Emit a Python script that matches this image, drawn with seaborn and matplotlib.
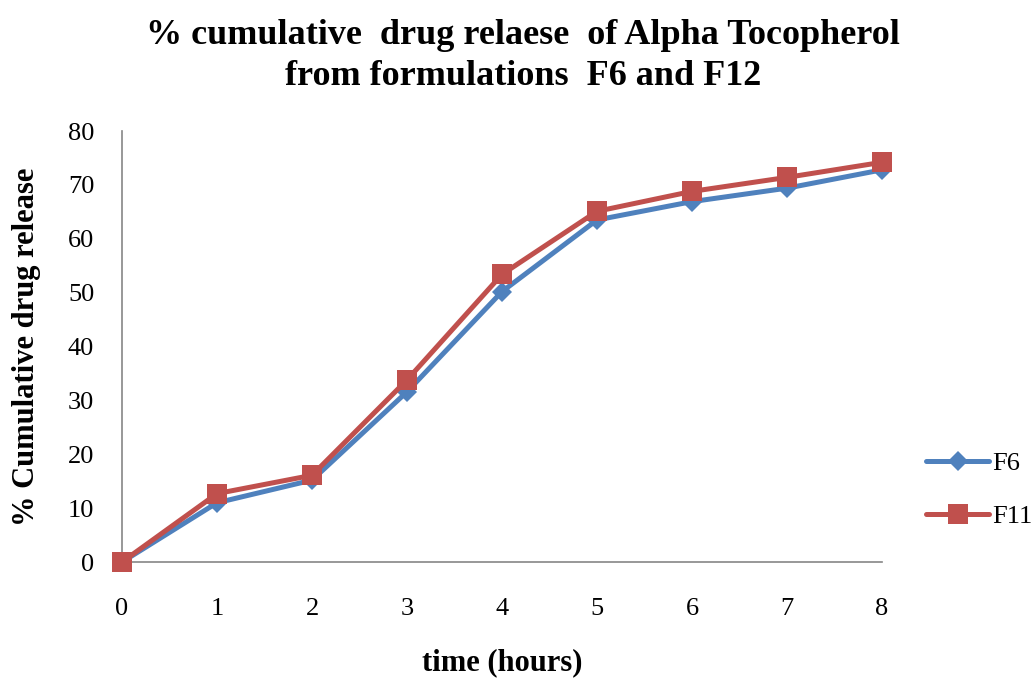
import numpy as np
import pandas as pd
import matplotlib
matplotlib.use("Agg")
import matplotlib.pyplot as plt
import seaborn as sns

time_hours = [0, 1, 2, 3, 4, 5, 6, 7, 8]
f6_release = [0, 11.0, 15.2, 31.6, 50.2, 63.5, 66.9, 69.4, 72.8]
f11_release = [0, 12.7, 16.1, 33.8, 53.4, 65.1, 68.8, 71.4, 74.2]
series_names = ["F6", "F11"]
y_ticks = [0, 10, 20, 30, 40, 50, 60, 70, 80]

df = pd.DataFrame({
    "time": time_hours * 2,
    "release": f6_release + f11_release,
    "series": [series_names[0]] * len(time_hours) + [series_names[1]] * len(time_hours),
})

sns.set_style("white")
plt.rcParams["font.family"] = ["Liberation Serif", "DejaVu Serif"]
plt.rcParams["text.color"] = "black"
plt.rcParams["axes.labelcolor"] = "black"

fig = plt.figure(figsize=(10.35, 6.79), dpi=100)
ax = fig.add_axes([0.1179, 0.1723, 0.7343, 0.6347])

palette = {"F6": "#4F81BD", "F11": "#C0504D"}
markers = {"F6": "D", "F11": "s"}
sizes = {"F6": 10, "F11": 14}
for name in series_names:
    sub = df[df["series"] == name]
    sns.lineplot(data=sub, x="time", y="release", ax=ax, color=palette[name],
                 marker=markers[name], markersize=sizes[name], linewidth=3.6,
                 markeredgewidth=0, label=name, clip_on=False, zorder=3)

ax.set_xlim(0, 8)
ax.set_ylim(0, 80)
ax.set_xticks(time_hours)
ax.set_yticks(y_ticks)
ax.tick_params(axis="both", labelsize=19, labelcolor="black", length=8, width=1.2,
               direction="out", color="#868686")
ax.tick_params(axis="x", pad=18)
ax.tick_params(axis="y", pad=12)
for side in ["top", "right"]:
    ax.spines[side].set_visible(False)
for side in ["left", "bottom"]:
    ax.spines[side].set_color("#868686")
    ax.spines[side].set_linewidth(1.2)

ax.set_xlabel("time (hours)", fontsize=22, fontweight="bold", labelpad=20)
ax.set_ylabel("% Cumulative drug release", fontsize=22, fontweight="bold", labelpad=19)
fig.suptitle("% cumulative  drug relaese  of Alpha Tocopherol\nfrom formulations  F6 and F12",
             x=0.505, y=0.972, fontsize=26, fontweight="bold", linespacing=1.3)

ax.get_legend().remove()
handles, labels = ax.get_legend_handles_labels()
fig.legend(handles, labels, loc="center left", bbox_to_anchor=(926 / 1035, 1 - 490 / 679),
           frameon=False, fontsize=19, handlelength=2.4, labelspacing=1.1,
           handletextpad=0.1, borderaxespad=0, borderpad=0)

fig.savefig("out.png", dpi=100)
